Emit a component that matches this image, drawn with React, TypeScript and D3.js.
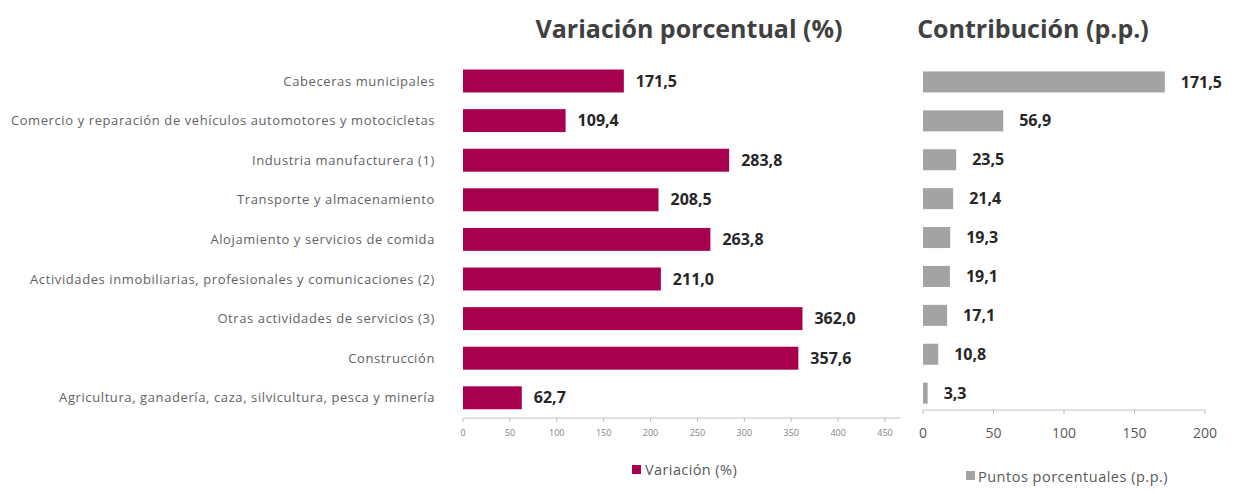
import * as d3 from "d3";

const categories = [
  "Cabeceras municipales",
  "Comercio y reparación de vehículos automotores y motocicletas",
  "Industria manufacturera (1)",
  "Transporte y almacenamiento",
  "Alojamiento y servicios de comida",
  "Actividades inmobiliarias, profesionales y comunicaciones (2)",
  "Otras actividades de servicios (3)",
  "Construcción",
  "Agricultura, ganadería, caza, silvicultura, pesca y minería",
];
const variacion = [171.5, 109.4, 283.8, 208.5, 263.8, 211.0, 362.0, 357.6, 62.7];
const contribucion = [171.5, 56.9, 23.5, 21.4, 19.3, 19.1, 17.1, 10.8, 3.3];
const variacionTicks = [0, 50, 100, 150, 200, 250, 300, 350, 400, 450];
const contribucionTicks = [0, 50, 100, 150, 200];

const W = 1236;
const H = 494;
const font = "'Open Sans', 'DejaVu Sans', sans-serif";
const crimson = "#A6004F";
const grey = "#A3A3A3";
const textGrey = "#595959";

const locale = d3.formatLocale({
  decimal: ",",
  thousands: ".",
  grouping: [3],
  currency: ["$", ""],
});
const fmt = locale.format(".1f");

const App = () => {
  // panel izquierdo
  const xLeft = d3.scaleLinear().domain([0, 466]).range([463, 900]);
  const yLeft = d3
    .scaleBand()
    .domain(categories)
    .range([61.2, 417.6])
    .paddingInner(0.42)
    .paddingOuter(0.21);
  const leftAxisY = 418;

  // panel derecho
  const xRight = d3.scaleLinear().domain([0, 200]).range([923, 1205]);
  const yRight = d3
    .scaleBand()
    .domain(categories)
    .range([62.5, 412.6])
    .paddingInner(0.46)
    .paddingOuter(0.23);
  const rightAxisY = 410;

  return (
    <svg
      width={W}
      height={H}
      viewBox={`0 0 ${W} ${H}`}
      style={{ position: "absolute", left: 0, top: 0, background: "#fff" }}
      fontFamily={font}
    >
      {/* títulos */}
      <text
        x={689}
        y={38}
        textAnchor="middle"
        fontSize={25}
        fontWeight="bold"
        fill="#404040"
      >
        Variación porcentual (%)
      </text>
      <text
        x={1033}
        y={38}
        textAnchor="middle"
        fontSize={25}
        fontWeight="bold"
        fill="#404040"
      >
        Contribución (p.p.)
      </text>

      {/* etiquetas de categorías */}
      {categories.map((c) => (
        <text
          key={c}
          x={435}
          y={yLeft(c)! + yLeft.bandwidth() / 2}
          dy="0.35em"
          textAnchor="end"
          fontSize={13}
          letterSpacing={0.6}
          fill="#626262"
        >
          {c}
        </text>
      ))}

      {/* barras variación */}
      {categories.map((c, i) => (
        <g key={c}>
          <rect
            x={xLeft(0)}
            y={yLeft(c)}
            width={xLeft(variacion[i]) - xLeft(0)}
            height={yLeft.bandwidth()}
            fill={crimson}
          />
          <text
            x={xLeft(variacion[i]) + 12}
            y={yLeft(c)! + yLeft.bandwidth() / 2}
            dy="0.35em"
            fontSize={16}
            fontWeight="bold"
            fill="#262626"
          >
            {fmt(variacion[i])}
          </text>
        </g>
      ))}

      {/* eje variación */}
      <line
        x1={xLeft(0)}
        x2={xLeft.range()[1]}
        y1={leftAxisY}
        y2={leftAxisY}
        stroke="#BFBFBF"
      />
      {variacionTicks.map((t) => (
        <g key={t}>
          <line
            x1={xLeft(t)}
            x2={xLeft(t)}
            y1={leftAxisY}
            y2={leftAxisY + 4}
            stroke="#BFBFBF"
          />
          <text
            x={xLeft(t)}
            y={436}
            textAnchor="middle"
            fontSize={9}
            fill="#7F7F7F"
          >
            {t}
          </text>
        </g>
      ))}

      {/* leyenda variación */}
      <rect x={632} y={465} width={9} height={9} fill={crimson} />
      <text x={645} y={475} fontSize={14.5} letterSpacing={0.4} fill={textGrey}>
        Variación (%)
      </text>

      {/* barras contribución */}
      {categories.map((c, i) => (
        <g key={c}>
          <rect
            x={xRight(0)}
            y={yRight(c)}
            width={xRight(contribucion[i]) - xRight(0)}
            height={yRight.bandwidth()}
            fill={grey}
          />
          <text
            x={xRight(contribucion[i]) + 16}
            y={yRight(c)! + yRight.bandwidth() / 2}
            dy="0.35em"
            fontSize={16}
            fontWeight="bold"
            fill="#262626"
          >
            {fmt(contribucion[i])}
          </text>
        </g>
      ))}

      {/* eje contribución */}
      <line
        x1={xRight(0)}
        x2={xRight(200)}
        y1={rightAxisY}
        y2={rightAxisY}
        stroke="#BFBFBF"
      />
      {contribucionTicks.map((t) => (
        <g key={t}>
          <line
            x1={xRight(t)}
            x2={xRight(t)}
            y1={rightAxisY}
            y2={rightAxisY + 4}
            stroke="#BFBFBF"
          />
          <text
            x={xRight(t)}
            y={438}
            textAnchor="middle"
            fontSize={14}
            fill={textGrey}
          >
            {t}
          </text>
        </g>
      ))}

      {/* leyenda contribución */}
      <rect x={966} y={471} width={9} height={9} fill={grey} />
      <text x={978} y={482} fontSize={14.5} letterSpacing={0.5} fill={textGrey}>
        Puntos porcentuales (p.p.)
      </text>
    </svg>
  );
};

export default App;
